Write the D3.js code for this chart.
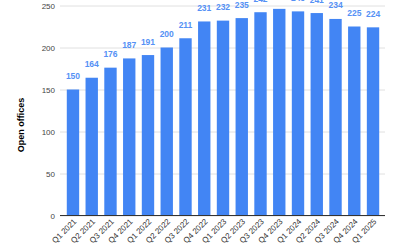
<!DOCTYPE html>
<html>
<head>
<meta charset="utf-8">
<script src="https://cdn.jsdelivr.net/npm/d3@7"></script>
<style>
  body { margin: 0; background: #fff; }
  svg { display: block; font-family: "Liberation Sans", Arial, sans-serif; }
</style>
</head>
<body>
<script>
const quarters = ["Q1 2021", "Q2 2021", "Q3 2021", "Q4 2021",
    "Q1 2022", "Q2 2022", "Q3 2022", "Q4 2022",
    "Q1 2023", "Q2 2023", "Q3 2023", "Q4 2023",
    "Q1 2024", "Q2 2024", "Q3 2024", "Q4 2024",
    "Q1 2025"];
const openOffices = [150, 164, 176, 187, 191, 200, 211, 231,
    232, 235, 242, 246, 243, 241, 234, 225, 224];
const yTicks = [0, 50, 100, 150, 200, 250];

const width = 400,
    height = 250;

const svg = d3.select('body')
    .append('svg')
    .attr('width', width)
    .attr('height', height);

const x = d3.scaleBand()
    .domain(quarters)
    .range([63.6, 382.4])
    .paddingInner(0.34)
    .paddingOuter(0.17);

const y = d3.scaleLinear()
    .domain([0, 250])
    .range([215.5, 5.5]);

// gridlines + tick labels
const yAxis = svg.append('g')
    .attr('transform', 'translate(60,0)')
    .call(d3.axisLeft(y).tickValues(yTicks).tickSize(0).tickPadding(5));
yAxis.select('.domain').remove();
yAxis.selectAll('text')
    .attr('fill', '#444')
    .style('font-size', '8px');
yAxis.selectAll('.tick').append('line')
    .attr('x1', 0)
    .attr('x2', 325)
    .attr('stroke', '#e0e0e0')
    .attr('stroke-width', 1);

svg.append('g')
    .selectAll('rect')
    .data(openOffices)
    .enter().append('rect')
    .attr('x', (d, i) => x(quarters[i]))
    .attr('y', d => y(d))
    .attr('width', x.bandwidth())
    .attr('height', d => y(0) - y(d))
    .attr('fill', '#4285f4');

svg.append('g')
    .selectAll('text')
    .data(openOffices)
    .enter().append('text')
    .attr('x', (d, i) => x(quarters[i]) + x.bandwidth() / 2)
    .attr('y', d => y(d) - 10.5)
    .attr('text-anchor', 'middle')
    .attr('fill', '#5591f5')
    .style('font-size', '8.5px')
    .style('font-weight', 'bold')
    .text(d => d);

// baseline
svg.append('line')
    .attr('x1', 60)
    .attr('x2', 385)
    .attr('y1', y(0))
    .attr('y2', y(0))
    .attr('stroke', '#333')
    .attr('stroke-width', 1);

// x labels, rotated
svg.append('g')
    .selectAll('text')
    .data(quarters)
    .enter().append('text')
    .attr('transform', d => 'translate(' + (x(d) + x.bandwidth() / 2 + 4) + ',' + 222 + ') rotate(-45)')
    .attr('text-anchor', 'end')
    .attr('fill', '#333')
    .style('font-size', '8px')
    .text(d => d);

svg.append('text')
    .attr('transform', 'translate(23.5,125) rotate(-90)')
    .attr('text-anchor', 'middle')
    .attr('fill', '#000')
    .style('font-size', '9px')
    .style('font-weight', 'bold')
    .text('Open offices');
</script>
</body>
</html>
